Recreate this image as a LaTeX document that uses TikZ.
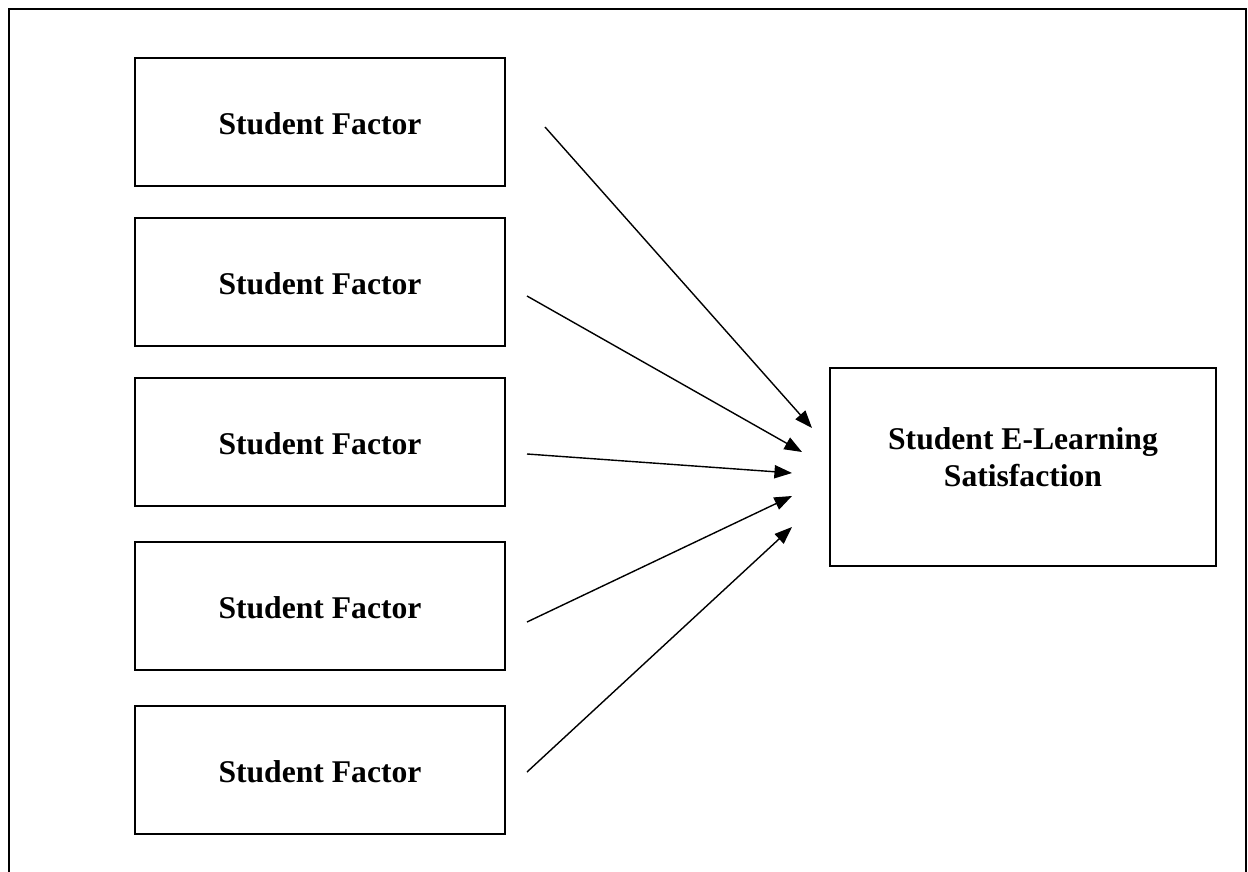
\documentclass[tikz,border=0pt]{standalone}
\usepackage{fontspec}
\setmainfont{Liberation Serif}
\usetikzlibrary{arrows.meta}
\tikzset{
  factorBox/.style={draw, line width=1pt, minimum width=7.4cm, minimum height=2.56cm,
    text height=14.5pt, text depth=0pt,
    font=\bfseries\fontsize{18}{21.6}\selectfont},
  outcomeBox/.style={draw, line width=1pt, minimum width=7.72cm, minimum height=3.96cm,
    align=center, text depth=0.4cm, font=\bfseries\fontsize{18}{21.6}\selectfont},
  link/.style={line width=0.8pt, -{Triangle[length=10pt,width=7.5pt]}}
}
\begin{document}
\begin{tikzpicture}[x=0.02cm, y=-0.02cm]
        \useasboundingbox (0,0) rectangle (1248,872);
        \clip (0,0) rectangle (1248,872);
        \draw[line width=1.1pt] (9,9) rectangle (1246,890);
        % factor boxes
        \node[factorBox] (f1) at (320,122) {Student Factor};
        \node[factorBox] (f2) at (320,282) {Student Factor};
        \node[factorBox] (f3) at (320,442) {Student Factor};
        \node[factorBox] (f4) at (320,606) {Student Factor};
        \node[factorBox] (f5) at (320,770) {Student Factor};
        \node[outcomeBox] (sat) at (1023,467) {Student E-Learning\\Satisfaction};
        % arrow ends
        \coordinate (s1) at (545,127);
        \coordinate (s2) at (527,296);
        \coordinate (s3) at (527,454);
        \coordinate (s4) at (527,622);
        \coordinate (s5) at (527,772);
        \coordinate (t1) at (812,428);
        \coordinate (t2) at (802,452);
        \coordinate (t3) at (792,473);
        \coordinate (t4) at (792,496);
        \coordinate (t5) at (792,527);
        \foreach \i in {1,...,5}
          \draw[link] (s\i) -- (t\i);
      \end{tikzpicture}
\end{document}
